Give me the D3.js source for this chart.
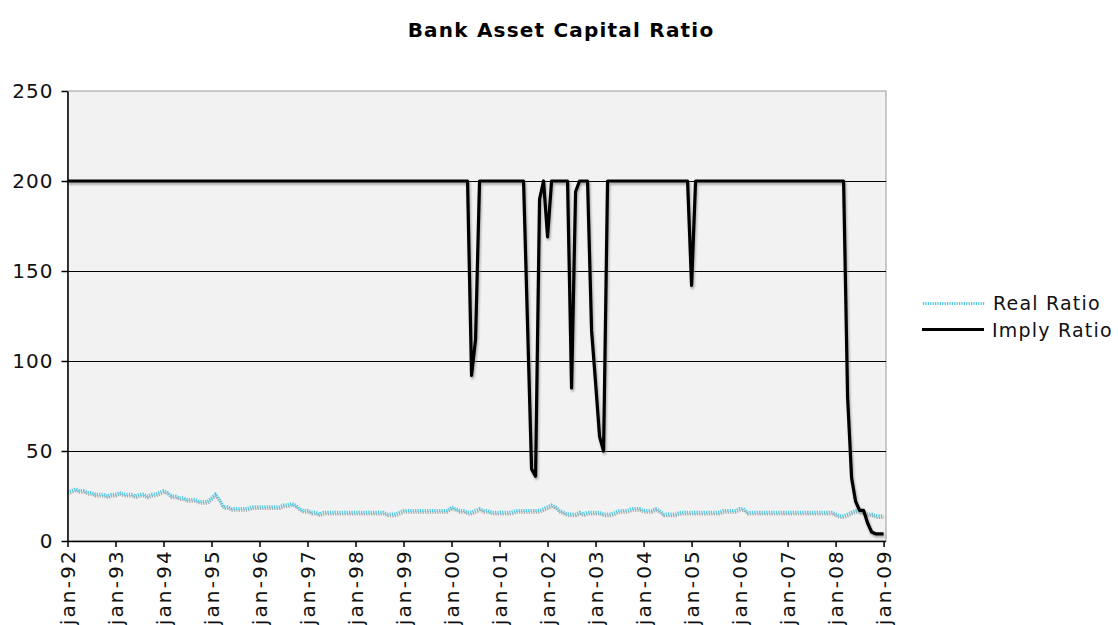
<!DOCTYPE html>
<html>
<head>
<meta charset="utf-8">
<script src="https://cdn.jsdelivr.net/npm/d3@7"></script>
<style>
  html, body { margin: 0; padding: 0; background: #ffffff; }
  svg { display: block; font-family: "DejaVu Sans", Verdana, sans-serif; }
</style>
</head>
<body>
<svg id="chart" width="1118" height="625"></svg>
<script>
// ---- DATA (monthly, Jan 1992 .. Jan 2009) ----
const startYear = 1992;
const xTickLabels = ["jan-92","jan-93","jan-94","jan-95","jan-96","jan-97","jan-98","jan-99",
  "jan-00","jan-01","jan-02","jan-03","jan-04","jan-05","jan-06","jan-07","jan-08","jan-09"];
const yTickValues = [0, 50, 100, 150, 200, 250];
const seriesNames = ["Real Ratio", "Imply Ratio"];

const realRatio = [
  27, 28, 29, 28, 28, 27, 27, 26, 26, 26, 25, 26,   // 1992
  26, 27, 26, 26, 26, 25, 26, 26, 25, 26, 26, 27,   // 1993
  28, 27, 25, 25, 24, 24, 23, 23, 23, 22, 22, 22,   // 1994
  24, 26, 23, 19, 19, 18, 18, 18, 18, 18, 19, 19,   // 1995
  19, 19, 19, 19, 19, 19, 20, 20, 21, 20, 18, 17,   // 1996
  17, 16, 16, 15, 16, 16, 16, 16, 16, 16, 16, 16,   // 1997
  16, 16, 16, 16, 16, 16, 16, 16, 15, 15, 15, 16,   // 1998
  17, 17, 17, 17, 17, 17, 17, 17, 17, 17, 17, 17,   // 1999
  19, 18, 17, 17, 16, 16, 17, 18, 17, 17, 16, 16,   // 2000
  16, 16, 16, 16, 17, 17, 17, 17, 17, 17, 17, 18,   // 2001
  19, 20, 19, 17, 16, 15, 15, 15, 16, 15, 16, 16,   // 2002
  16, 16, 15, 15, 15, 16, 17, 17, 17, 18, 18, 18,   // 2003
  17, 17, 17, 18, 17, 15, 15, 15, 15, 16, 16, 16,   // 2004
  16, 16, 16, 16, 16, 16, 16, 16, 17, 17, 17, 17,   // 2005
  18, 18, 16, 16, 16, 16, 16, 16, 16, 16, 16, 16,   // 2006
  16, 16, 16, 16, 16, 16, 16, 16, 16, 16, 16, 16,   // 2007
  15, 14, 14, 15, 16, 17, 17, 16, 15, 15, 14, 14,   // 2008
  14                                                // 2009
];

const implyRatio = [
  200,200,200,200,200,200,200,200,200,200,200,200,  // 1992
  200,200,200,200,200,200,200,200,200,200,200,200,  // 1993
  200,200,200,200,200,200,200,200,200,200,200,200,  // 1994
  200,200,200,200,200,200,200,200,200,200,200,200,  // 1995
  200,200,200,200,200,200,200,200,200,200,200,200,  // 1996
  200,200,200,200,200,200,200,200,200,200,200,200,  // 1997
  200,200,200,200,200,200,200,200,200,200,200,200,  // 1998
  200,200,200,200,200,200,200,200,200,200,200,200,  // 1999
  200,200,200,200,200, 92,112,200,200,200,200,200,  // 2000
  200,200,200,200,200,200,200,120, 40, 36,190,200,  // 2001
  169,200,200,200,200,200, 85,194,200,200,200,117,  // 2002
   88, 58, 50,200,200,200,200,200,200,200,200,200,  // 2003
  200,200,200,200,200,200,200,200,200,200,200,200,  // 2004
  142,200,200,200,200,200,200,200,200,200,200,200,  // 2005
  200,200,200,200,200,200,200,200,200,200,200,200,  // 2006
  200,200,200,200,200,200,200,200,200,200,200,200,  // 2007
  200,200,200, 80, 35, 22, 17, 17, 10,  5,  4,  4,  // 2008
    4                                               // 2009
];

// ---- LAYOUT ----
const svg = d3.select("#chart");
const plot = { left: 67.5, right: 886, top: 91, bottom: 541 };

const x = d3.scaleLinear().domain([0, 204.6]).range([plot.left, plot.right]);
const y = d3.scaleLinear().domain([0, 250]).range([plot.bottom, plot.top]);

// shadow filter
const defs = svg.append("defs");
const f = defs.append("filter").attr("id", "soft").attr("x", "-5%").attr("y", "-5%").attr("width", "110%").attr("height", "110%");
f.append("feGaussianBlur").attr("stdDeviation", 0.8);

// Title
svg.append("text")
  .attr("x", 561).attr("y", 37)
  .attr("text-anchor", "middle")
  .attr("font-size", 20).attr("font-weight", "bold")
  .attr("letter-spacing", 1.2)
  .attr("fill", "#000")
  .text("Bank Asset Capital Ratio");

// Plot background
svg.append("rect")
  .attr("x", plot.left).attr("y", plot.top)
  .attr("width", plot.right - plot.left).attr("height", plot.bottom - plot.top)
  .attr("fill", "#f2f2f2").attr("stroke", "#9a9a9a").attr("stroke-width", 1);

// Gridlines
svg.append("g").selectAll("line")
  .data(yTickValues.filter(v => v > 0 && v < 250))
  .join("line")
  .attr("x1", plot.left).attr("x2", plot.right)
  .attr("y1", d => Math.round(y(d)) + 0.5).attr("y2", d => Math.round(y(d)) + 0.5)
  .attr("stroke", "#000").attr("stroke-width", 1);

// Lines
const idx = d3.range(realRatio.length);
const line = arr => d3.line().x(i => x(i)).y(i => y(arr[i]))(idx);

// Real ratio shadow + line
svg.append("path").attr("d", line(realRatio))
  .attr("fill", "none").attr("stroke", "#8c979b").attr("stroke-width", 2.5)
  .attr("stroke-dasharray", "1.2,1.2").attr("transform", "translate(0.5,2)").attr("opacity", 0.8);
svg.append("path").attr("d", line(realRatio))
  .attr("fill", "none").attr("stroke", "#4cc8e2").attr("stroke-width", 3)
  .attr("stroke-dasharray", "1.2,1.2");

// Imply ratio shadow + line
svg.append("path").attr("d", line(implyRatio))
  .attr("fill", "none").attr("stroke", "#8a8a8a").attr("stroke-width", 3.5)
  .attr("stroke-linejoin", "round")
  .attr("transform", "translate(1,2)").attr("opacity", 0.7).attr("filter", "url(#soft)");
svg.append("path").attr("d", line(implyRatio))
  .attr("fill", "none").attr("stroke", "#000").attr("stroke-width", 3.2)
  .attr("stroke-linejoin", "round");

// Y axis
const yAxis = svg.append("g")
  .attr("transform", `translate(${plot.left},0)`)
  .call(d3.axisLeft(y).tickValues(yTickValues).tickSize(6).tickSizeOuter(0).tickPadding(8));
yAxis.select(".domain").attr("stroke", "#000").attr("stroke-width", 1.5);
yAxis.selectAll(".tick line").attr("stroke", "#000").attr("stroke-width", 1.5);
yAxis.selectAll("text").attr("font-size", 20).attr("letter-spacing", 1).attr("fill", "#111")
  .attr("font-family", "DejaVu Sans");

// X axis
const xAxis = svg.append("g")
  .attr("transform", `translate(0,${plot.bottom})`)
  .call(d3.axisBottom(x)
    .tickValues(xTickLabels.map((_, k) => k * 12))
    .tickFormat((d, k) => xTickLabels[k])
    .tickSize(6).tickSizeOuter(0));
xAxis.select(".domain").attr("stroke", "#000").attr("stroke-width", 1.5)
  .attr("d", `M${plot.left},0.5H${plot.right}`);
xAxis.selectAll(".tick line").attr("stroke", "#000").attr("stroke-width", 1.5);
xAxis.selectAll("text")
  .attr("font-size", 20).attr("letter-spacing", 2.2).attr("fill", "#111")
  .attr("font-family", "DejaVu Sans")
  .attr("transform", "rotate(-90)")
  .attr("text-anchor", "end")
  .attr("x", -8).attr("y", 0).attr("dy", "0.36em");

// Legend
const legend = svg.append("g");
legend.append("line").attr("x1", 923).attr("x2", 985).attr("y1", 303.5).attr("y2", 303.5)
  .attr("stroke", "#4cc8e2").attr("stroke-width", 3).attr("stroke-dasharray", "1.2,1.2");
legend.append("text").attr("x", 993).attr("y", 310)
  .attr("font-size", 19).attr("letter-spacing", 1.2).attr("fill", "#111").text(seriesNames[0]);
legend.append("line").attr("x1", 922).attr("x2", 984).attr("y1", 329.5).attr("y2", 329.5)
  .attr("stroke", "#000").attr("stroke-width", 3);
legend.append("text").attr("x", 992).attr("y", 337)
  .attr("font-size", 19).attr("letter-spacing", 1.2).attr("fill", "#111").text(seriesNames[1]);
</script>
</body>
</html>
